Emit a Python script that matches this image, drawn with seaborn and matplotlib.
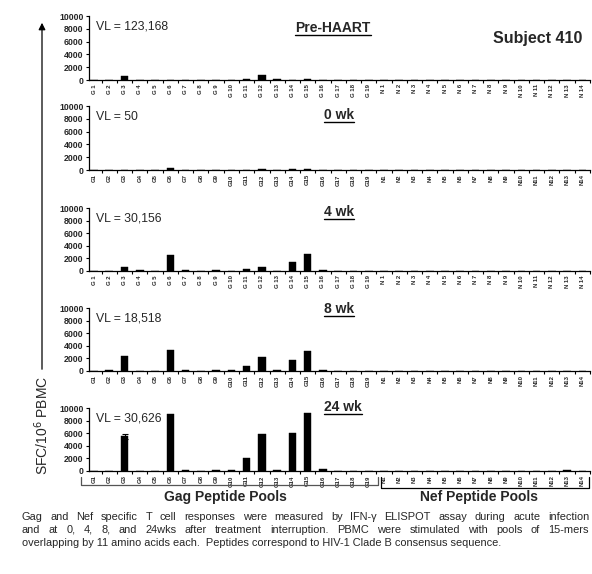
import matplotlib
matplotlib.use("Agg")
import matplotlib.pyplot as plt
import seaborn as sns
import pandas as pd
import numpy as np
from matplotlib.lines import Line2D

sns.set_theme(style="white")
plt.rcParams['font.family'] = ['Liberation Sans', 'DejaVu Sans']

gag_pools = [f"G{i}" for i in range(1, 20)]
nef_pools = [f"N{i}" for i in range(1, 15)]
pools = gag_pools + nef_pools

pre_haart = [0, 0, 700, 0, 0, 0, 0, 0, 0, 0, 150, 800, 150, 0, 100, 0, 0, 50, 0,
             0, 0, 0, 0, 0, 0, 0, 0, 0, 0, 0, 0, 0, 0]
wk0 = [0, 0, 20, 0, 0, 250, 0, 0, 0, 0, 40, 80, 0, 100, 200, 0, 0, 0, 0,
       0, 0, 0, 0, 30, 0, 0, 0, 20, 0, 0, 0, 0, 0]
wk4 = [0, 50, 700, 100, 0, 2500, 150, 0, 150, 0, 300, 600, 0, 1400, 2700, 150, 0, 0, 0,
       0, 0, 0, 0, 0, 0, 0, 0, 0, 0, 0, 0, 0, 0]
wk8 = [0, 80, 2400, 0, 50, 3400, 100, 0, 200, 100, 750, 2200, 100, 1800, 3100, 150, 30, 30, 0,
       0, 60, 0, 60, 0, 0, 0, 0, 0, 60, 0, 0, 60, 0]
wk24 = [0, 0, 5500, 0, 0, 9000, 150, 0, 150, 80, 2000, 5800, 80, 6100, 9200, 300, 0, 0, 0,
        0, 30, 40, 30, 0, 0, 0, 0, 0, 0, 0, 0, 100, 30]
wk24_err = [0, 0, 400, 0, 0, 0, 0, 0, 0, 0, 0, 0, 0, 0, 0, 0, 0, 0, 0,
            0, 0, 0, 0, 0, 0, 0, 0, 0, 0, 0, 0, 0, 0]

panel_titles = ["Pre-HAART", "0 wk", "4 wk", "8 wk", "24 wk"]
viral_loads = ["VL = 123,168", "VL = 50", "VL = 30,156", "VL = 18,518", "VL = 30,626"]
panel_values = [pre_haart, wk0, wk4, wk8, wk24]
spaced_labels = [True, False, True, False, False]
y_ticks = [0, 2000, 4000, 6000, 8000, 10000]

caption = [
    "Gag and Nef specific T cell responses were measured by IFN-\u03b3 ELISPOT assay during acute infection",
    "and at 0, 4, 8, and 24wks after treatment interruption. PBMC were stimulated with pools of 15-mers",
    "overlapping by 11 amino acids each.  Peptides correspond to HIV-1 Clade B consensus sequence.",
]

W, H = 592, 574
fig = plt.figure(figsize=(W / 100, H / 100), dpi=100)

def fx(px):
    return px / W

def fy(py):
    return 1 - py / H

panel_px = [(16, 80), (106, 170), (208, 271), (308, 371), (408, 471)]
title_px = [(333, 28), (339, 115), (339, 212), (339, 309), (343, 407)]
left_px, right_px = 89, 590

for k in range(5):
    top, bot = panel_px[k]
    ax = fig.add_axes([fx(left_px), fy(bot), fx(right_px - left_px), (bot - top) / H])
    df = pd.DataFrame({"pool": pools, "sfc": panel_values[k]})
    sns.barplot(data=df, x="pool", y="sfc", order=pools, color="black",
                width=0.5, errorbar=None, ax=ax, saturation=1)
    for p in ax.patches:
        p.set_edgecolor("black")
        p.set_linewidth(0.3)
    if k == 4:
        xs = np.arange(len(pools))
        vals = np.array(wk24)
        errs = np.array(wk24_err)
        m = errs > 0
        ax.errorbar(xs[m], vals[m], yerr=errs[m], fmt="none", ecolor="black",
                    elinewidth=0.8, capsize=2, capthick=0.8)
    ax.set_xlim(-0.33, 32.46)
    ax.set_ylim(0, 10000)
    ax.set_xlabel("")
    ax.set_ylabel("")
    ax.set_yticks(y_ticks)
    ax.set_yticklabels([str(t) for t in y_ticks], fontsize=6.3, fontweight="bold")
    labels = [p[0] + " " + p[1:] for p in pools] if spaced_labels[k] else pools
    ax.set_xticks(range(len(pools)))
    ax.set_xticklabels(labels, rotation=90, fontsize=4.3, fontweight="bold")
    ax.set_xticks(np.arange(len(pools)) + 0.5, minor=True)
    ax.tick_params(axis="x", which="major", length=0, pad=3)
    ax.tick_params(axis="x", which="minor", length=2, width=0.8, direction="out", color="black")
    ax.tick_params(axis="y", length=2.5, width=0.8, direction="out", color="black", pad=1.5)
    ax.tick_params(left=True, bottom=True, which="both")
    for s in ["top", "right"]:
        ax.spines[s].set_visible(False)
    for s in ["left", "bottom"]:
        ax.spines[s].set_color("black")
        ax.spines[s].set_linewidth(0.9)
    ax.set_facecolor("none")
    ax.text(0.014, 0.83, viral_loads[k], transform=ax.transAxes, fontsize=8.8,
            ha="left", va="center")

fig.canvas.draw()
renderer = fig.canvas.get_renderer()
for k in range(5):
    cx, cy = title_px[k]
    t = fig.text(fx(cx), fy(cy), panel_titles[k], fontsize=10, fontweight="bold",
                 ha="center", va="center")
    bb = t.get_window_extent(renderer=renderer)
    x0, x1 = bb.x0 / fig.bbox.width, bb.x1 / fig.bbox.width
    yb = (bb.y0 + 0.5) / fig.bbox.height
    fig.add_artist(Line2D([x0, x1], [yb, yb], color="black", lw=1.0))

fig.text(fx(538), fy(38), "Subject 410", fontsize=11.5, fontweight="bold",
         ha="center", va="center")

fig.text(fx(42), fy(425), "SFC/10$^{6}$ PBMC", rotation=90, fontsize=10,
         ha="center", va="center")
fig.add_artist(matplotlib.patches.FancyArrowPatch(
    (fx(42), fy(372)), (fx(42), fy(20)), transform=fig.transFigure,
    arrowstyle="-|>,head_length=4,head_width=2", color="black", lw=0.9,
    mutation_scale=1))

gc = "#555555"
fig.add_artist(Line2D([fx(81), fx(81), fx(378), fx(378)],
                      [fy(477), fy(485), fy(485), fy(477)], color=gc, lw=0.9))
fig.add_artist(Line2D([fx(381), fx(381), fx(589), fx(589)],
                      [fy(477), fy(488), fy(488), fy(477)], color="black", lw=0.9))
fig.text(fx(225), fy(497), "Gag Peptide Pools", fontsize=10, fontweight="bold",
         ha="center", va="center")
fig.text(fx(479), fy(497), "Nef Peptide Pools", fontsize=10, fontweight="bold",
         ha="center", va="center")

# caption: first two lines justified, last line natural
cap_fs = 7.9
targets = [589, 589, None]
for i, line in enumerate(caption):
    ypos = fy(517 + 13 * i)
    if targets[i] is None:
        fig.text(fx(22), ypos, line, fontsize=cap_fs, ha="left", va="center")
        continue
    words = line.split(" ")
    widths = []
    for w in words:
        tt = fig.text(0, 0, w, fontsize=cap_fs)
        widths.append(tt.get_window_extent(renderer=renderer).width)
        tt.remove()
    gap = (targets[i] - 22 - sum(widths)) / (len(words) - 1)
    x = 22.0
    for w, wd in zip(words, widths):
        fig.text(fx(x), ypos, w, fontsize=cap_fs, ha="left", va="center")
        x += wd + gap

fig.savefig("out.png", dpi=100)
